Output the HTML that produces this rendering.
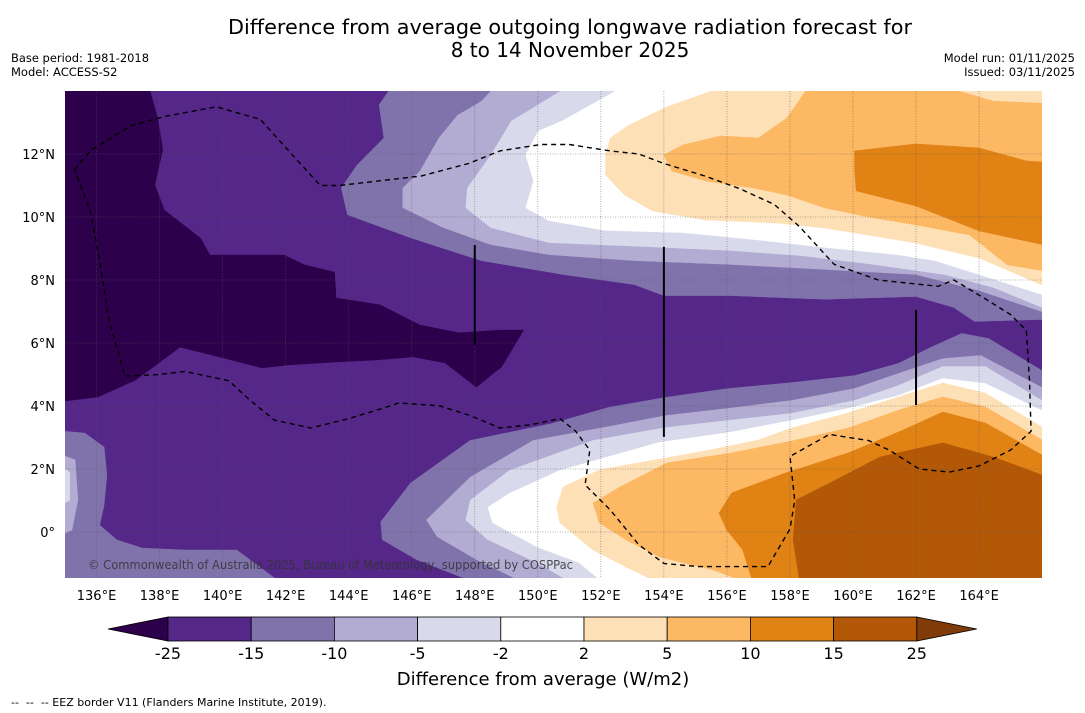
<!DOCTYPE html>
<html><head><meta charset="utf-8"><style>
html,body{margin:0;padding:0;background:#fff;}
svg{display:block;font-family:"DejaVu Sans","Liberation Sans",sans-serif;}
</style></head><body>
<svg id="chart" width="1085" height="713" viewBox="0 0 1085 713">
<defs><clipPath id="mapclip"><rect x="65" y="91" width="977" height="487"/></clipPath></defs>
<text x="570" y="34" text-anchor="middle" font-size="20" fill="#000" textLength="684" lengthAdjust="spacingAndGlyphs">Difference from average outgoing longwave radiation forecast for</text>
<text x="570" y="57" text-anchor="middle" font-size="20" fill="#000">8 to 14 November 2025</text>
<text x="11" y="62" font-size="11.5" fill="#000" textLength="138" lengthAdjust="spacingAndGlyphs">Base period: 1981-2018</text>
<text x="11" y="76" font-size="11.5" fill="#000">Model: ACCESS-S2</text>
<text x="1075" y="62" font-size="11.5" text-anchor="end" fill="#000">Model run: 01/11/2025</text>
<text x="1075" y="76" font-size="11.5" text-anchor="end" fill="#000">Issued: 03/11/2025</text>
<g id="map" clip-path="url(#mapclip)"></g>
<g id="overlay"></g>
<g id="axes"></g>
<g id="cbar"></g>
<text x="543" y="685" text-anchor="middle" font-size="18" fill="#000">Difference from average (W/m2)</text>
<text x="11" y="706" font-size="11" fill="#000" xml:space="preserve">--  --  -- EEZ border V11 (Flanders Marine Institute, 2019).</text>
</svg>
<script>
const lonTicks = [136,138,140,142,144,146,148,150,152,154,156,158,160,162,164];
const latTicks = [0,2,4,6,8,10,12];
const levelLabels = ["-25","-15","-10","-5","-2","2","5","10","15","25"];
const levelColors = ["#542788","#8073ac","#b2abd2","#d8daeb","#ffffff","#fee0b6","#fdb863","#e08214","#b35806"];
// contour boundaries [lon, lat]
const U2 = [[152.45,14.0],[150.8,13.08],[150.0,12.73],[149.6,11.97],[149.85,11.14],[149.6,10.29],[150.35,9.87],[152.15,9.56],[154.6,9.49],[156.85,9.27],[159.1,9.02],[161.4,8.79],[162.6,8.6],[164.0,8.16],[166.0,7.52]];
const L2 = [[151.95,-1.52],[151.3,-0.98],[149.95,-0.48],[148.55,0.29],[148.4,0.79],[149.1,1.24],[150.7,1.97],[153.85,2.86],[156.05,3.17],[158.05,3.56],[159.85,3.94],[161.45,4.35],[162.85,4.89],[164.2,4.73],[166.0,3.87]];
const U5 = [[150.7,14.0],[149.15,13.05],[148.5,11.97],[147.75,10.92],[147.7,10.29],[148.5,9.65],[150.35,9.17],[154.0,9.02],[156.1,8.92],[158.35,8.76],[160.65,8.48],[162.9,8.16],[164.45,7.75],[166.0,7.11]];
const L5 = [[150.9,-1.52],[149.95,-0.98],[148.4,-0.25],[147.7,0.38],[147.85,1.02],[149.1,1.97],[151.75,2.92],[154.05,3.33],[156.05,3.56],[158.05,3.78],[160.05,4.19],[161.45,4.67],[162.85,5.27],[164.2,5.27],[166.0,4.19]];
const U10 = [[148.5,14.0],[148.2,13.68],[147.45,13.24],[146.85,12.51],[146.25,11.46],[145.7,10.92],[145.7,10.29],[147.0,9.65],[148.5,9.11],[150.35,8.79],[153.05,8.6],[156.1,8.48],[159.1,8.32],[162.0,8.16],[164.0,7.65],[166.0,6.98]];
const L10 = [[149.35,-1.52],[148.05,-0.89],[146.8,-0.16],[146.45,0.38],[147.85,1.75],[149.85,2.92],[152.45,3.4],[154.05,3.71],[156.05,3.94],[158.05,4.19],[160.05,4.57],[161.45,5.05],[162.85,5.52],[164.05,5.62],[166.0,4.6]];
const U15 = [[145.25,14.0],[144.95,13.56],[145.1,12.51],[144.25,11.65],[143.75,10.92],[143.95,10.06],[145.95,9.33],[148.2,8.6],[150.8,8.16],[153.05,7.84],[154.0,7.49],[156.1,7.49],[159.1,7.37],[162.0,7.46],[163.2,7.11],[163.85,6.67],[166.0,6.73]];
const L15 = [[147.6,-1.46],[146.15,-0.89],[145.05,-0.25],[145.0,0.32],[145.95,1.56],[147.85,2.92],[150.45,3.46],[152.25,3.97],[154.05,4.29],[156.05,4.57],[158.05,4.76],[160.05,4.98],[161.45,5.37],[162.45,5.87],[163.45,6.32],[164.3,6.16],[166.0,5.14]];
const N25 = [[134.5,14.5],[137.7,14.5],[137.7,14.0],[137.95,13.08],[138.1,12.13],[137.85,11.02],[138.15,10.22],[139.3,9.33],[139.6,8.79],[141.95,8.79],[142.6,8.48],[143.55,8.25],[143.6,7.43],[145.0,7.21],[146.25,6.57],[147.5,6.32],[148.8,6.41],[149.55,6.41],[148.85,5.24],[148.05,4.6],[147.05,5.37],[146.05,5.56],[144.85,5.46],[143.65,5.4],[142.05,5.3],[141.25,5.21],[140.05,5.52],[138.65,5.87],[137.25,4.83],[136.05,4.29],[134.5,4.1]];
const patch10 = [[134.5,3.24],[135.63,3.14],[136.24,2.7],[136.33,1.81],[136.24,0.86],[136.1,0.22],[136.65,-0.25],[137.45,-0.51],[138.8,-0.57],[140.45,-0.57],[141.65,-1.46],[141.65,-2],[134.5,-2]];
const patch5 = [[134.5,2.6],[135.32,2.29],[135.41,1.02],[135.22,0.06],[134.5,-0.25]];
const patch2 = [[134.5,2.3],[135.15,1.9],[135.15,1.0],[134.5,0.7]];
const UP2 = [[155.5,14.0],[154.0,13.46],[152.9,12.92],[152.3,12.51],[152.15,11.97],[152.15,11.33],[152.75,10.7],[153.65,10.19],[155.35,9.9],[157.6,9.81],[159.1,9.65],[160.65,9.4],[162.0,9.17],[164.0,8.7],[166.0,7.84]];
const UP5 = [[158.5,14.5],[163.35,14.5],[163.35,14.0],[164.45,13.68],[166.5,13.59],[166.5,8.22],[164.9,8.48],[163.7,9.43],[162.0,9.75],[160.65,9.97],[159.1,10.29],[157.9,10.7],[156.85,10.92],[155.35,11.14],[154.25,11.46],[154.0,11.97],[154.6,12.29],[155.8,12.57],[157.0,12.51],[157.9,13.14],[158.5,14.0]];
const UP10 = [[160.05,12.1],[162.0,12.32],[164.0,12.19],[165.5,11.78],[166.5,11.71],[166.5,9.02],[164.0,9.56],[162.0,10.35],[160.1,10.83],[160.05,11.46]];
const P2 = [[153.65,-1.52],[152.8,-1.11],[151.75,-0.57],[150.7,0.29],[150.6,0.79],[150.8,1.43],[151.95,1.97],[155.45,2.6],[157.0,2.92],[158.05,3.3],[159.85,3.78],[161.45,4.29],[162.85,4.73],[164.2,4.41],[166.0,3.33]];
const P5 = [[156.4,-1.52],[155.55,-1.2],[153.85,-0.79],[152.8,-0.25],[151.95,0.29],[151.75,0.92],[152.6,1.43],[154.1,2.19],[156.15,2.51],[158.05,2.89],[159.85,3.3],[161.45,3.87],[162.85,4.29],[164.2,3.97],[166.0,2.92]];
const P10 = [[156.8,-1.52],[156.5,-0.57],[156.0,0.06],[155.75,0.6],[156.15,1.24],[157.85,1.87],[159.85,2.51],[161.6,3.24],[162.85,3.81],[164.2,3.46],[166.0,2.44]];
const P15 = [[158.3,-1.52],[158.1,-0.25],[158.2,1.02],[159.45,1.65],[160.85,2.38],[162.85,2.83],[164.45,2.38],[166.0,1.81]];
const EEZ = [[135.3,11.5],[135.8,12.1],[137.1,12.9],[138.2,13.2],[139.8,13.5],[141.2,13.1],[142.1,12.1],[143.1,11.0],[143.7,11.0],[146.3,11.3],[147.8,11.7],[148.8,12.1],[150.1,12.3],[151.0,12.3],[152.3,12.1],[153.2,12.0],[154.0,11.7],[155.3,11.3],[156.4,10.9],[157.5,10.4],[158.3,9.7],[159.4,8.5],[160.8,8.0],[162.7,7.8],[163.2,8.0],[164.2,7.4],[165.0,6.9],[165.5,6.4],[165.6,4.8],[165.65,3.2],[165.0,2.6],[164.0,2.1],[163.05,1.9],[162.1,2.0],[161.15,2.6],[160.5,2.9],[159.25,3.1],[158.0,2.4],[158.15,1.0],[158.0,0.1],[157.3,-1.1],[155.1,-1.1],[154.0,-1.0],[153.2,-0.4],[152.3,0.7],[151.5,1.5],[151.65,2.6],[151.2,3.2],[150.7,3.6],[149.75,3.4],[148.8,3.3],[147.85,3.7],[146.9,4.0],[145.6,4.1],[145.0,3.9],[144.0,3.6],[142.8,3.3],[141.65,3.55],[140.85,4.2],[140.2,4.8],[138.8,5.1],[138.0,5.0],[136.9,4.95],[136.4,6.7],[136.1,8.6],[135.8,10.2],[135.3,11.5]];
const vLines = [[148,9.11,5.94],[154,9.05,3.02],[162,7.05,4.03]];

const NS = "http://www.w3.org/2000/svg";
const X = lon => 65 + (lon - 135) * 31.52;
const Y = lat => 91 + (14 - lat) * 31.5;
const pts = arr => arr.map(p => X(p[0]).toFixed(1) + "," + Y(p[1]).toFixed(1)).join(" ");
function mk(tag, attrs, parent){const e=document.createElementNS(NS,tag);for(const k in attrs)e.setAttribute(k,attrs[k]);parent.appendChild(e);return e;}
const map = document.getElementById("map");
function poly(arr, color, name){
  const e = mk("polygon",{points:pts(arr),fill:color,stroke:color,"stroke-width":"0.5"},map);
  
  
}
function negRegion(U,L){return [[133,16],[U[0][0],16],...U,[168,U[U.length-1][1]],[168,L[L.length-1][1]],...L.slice().reverse(),[L[0][0],-3],[133,-3]];}
function upRegion(U){return [[U[0][0],16],...U,[168,U[U.length-1][1]],[168,16]];}
function lowRegion(C){return [[C[0][0],-3],...C,[168,C[C.length-1][1]],[168,-3]];}
mk("rect",{x:65,y:91,width:977,height:487,fill:"#ffffff"},map);
poly(negRegion(U2,L2),"#d8daeb","band-minus-2");
poly(negRegion(U5,L5),"#b2abd2","band-minus-5");
poly(negRegion(U10,L10),"#8073ac","band-minus-10");
poly(negRegion(U15,L15),"#542788","band-minus-15");
poly(N25,"#2d004b","band-minus-25");
poly(patch10,"#8073ac","patch-minus-10");
poly(patch5,"#b2abd2","patch-minus-5");
poly(patch2,"#d8daeb","patch-minus-2");
poly(upRegion(UP2),"#fee0b6","band-plus-2-north");
poly(UP5,"#fdb863","band-plus-5-north");
poly(UP10,"#e08214","band-plus-10-north");
poly(lowRegion(P2),"#fee0b6","band-plus-2-south");
poly(lowRegion(P5),"#fdb863","band-plus-5-south");
poly(lowRegion(P10),"#e08214","band-plus-10-south");
poly(lowRegion(P15),"#b35806","band-plus-15-south");
// grid
lonTicks.forEach(l=>{const e=mk("line",{x1:X(l),x2:X(l),y1:91,y2:578,stroke:"#555","stroke-width":"0.8","stroke-dasharray":"1,1.5",opacity:"0.6"},map);
  
  });
latTicks.forEach(l=>{const e=mk("line",{x1:65,x2:1042,y1:Y(l),y2:Y(l),stroke:"#555","stroke-width":"0.8","stroke-dasharray":"1,1.5",opacity:"0.6"},map);
  
  });
const ov = document.getElementById("overlay");
const eez = mk("polyline",{points:pts(EEZ),fill:"none",stroke:"#000","stroke-width":"1.4","stroke-dasharray":"5,4"},ov);


vLines.forEach(v=>{const e=mk("line",{x1:X(v[0]),x2:X(v[0]),y1:Y(v[1]),y2:Y(v[2]),stroke:"#000","stroke-width":"2"},ov);
  
  });
const cr = mk("text",{x:88,y:569,"font-size":"12",fill:"#333","fill-opacity":"0.85",textLength:"485",lengthAdjust:"spacingAndGlyphs"},ov);
cr.textContent = "© Commonwealth of Australia 2025, Bureau of Meteorology, supported by COSPPac";


// axis labels
const ax = document.getElementById("axes");
lonTicks.forEach(l=>{const t=mk("text",{x:X(l),y:600,"font-size":"13","text-anchor":"middle",fill:"#000"},ax);t.textContent=l+"°E";
  
  });
latTicks.forEach(l=>{const t=mk("text",{x:55,y:Y(l)+5,"font-size":"13","text-anchor":"end",fill:"#000"},ax);t.textContent=l===0?"0°":l+"°N";
  
  });
// colorbar
const cb = document.getElementById("cbar");
const cbX0 = 168, cbW = 83.2, cbY = 617, cbH = 24;
const t1 = mk("polygon",{points:`108,${cbY+cbH/2} ${cbX0},${cbY} ${cbX0},${cbY+cbH}`,fill:"#2d004b",stroke:"#000","stroke-width":"0.8"},cb);


levelColors.forEach((c,i)=>{const r=mk("rect",{x:cbX0+i*cbW,y:cbY,width:cbW,height:cbH,fill:c,stroke:"#000","stroke-width":"0.8"},cb);
  
  });
const xe = cbX0+levelColors.length*cbW;
const t2 = mk("polygon",{points:`${xe},${cbY} ${xe+60},${cbY+cbH/2} ${xe},${cbY+cbH}`,fill:"#7f3b08",stroke:"#000","stroke-width":"0.8"},cb);


levelLabels.forEach((s,i)=>{const t=mk("text",{x:cbX0+i*cbW,y:659,"font-size":"16","text-anchor":"middle",fill:"#000"},cb);t.textContent=s;
  
  });
</script>
</body></html>
